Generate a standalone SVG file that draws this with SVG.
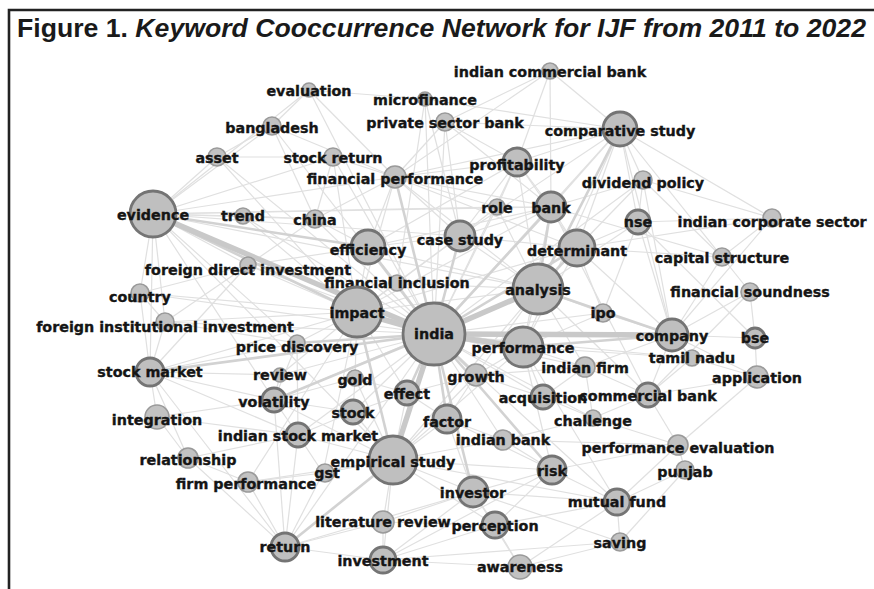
<svg xmlns="http://www.w3.org/2000/svg" width="874" height="589" viewBox="0 0 874 589">
<style>
.e{stroke:#e0e0e0;stroke-width:1.2;fill:none}
.m{stroke:#d2d2d2;stroke-width:2.6;fill:none}
.t{stroke:#c9c9c9;stroke-width:5.5;fill:none}
.n circle{fill:#c2c2c2;stroke:#9a9a9a;stroke-width:1.6}
.b circle{fill:#bfbfbf;stroke:#747474;stroke-width:2.8}
.n text,.b text{font-family:"DejaVu Sans",Verdana,sans-serif;font-weight:bold;font-size:14.3px;fill:#151515;stroke:#151515;stroke-width:0.35;text-anchor:middle}
.title{font-family:"Liberation Sans",Arial,sans-serif;font-weight:bold;font-size:26px;fill:#1a1a1a}
</style>
<rect width="874" height="589" fill="#fff"/>
<path d="M9,589 V10 H874" fill="none" stroke="#222" stroke-width="2.6"/>
<text class="title" x="17" y="37" textLength="849" lengthAdjust="spacingAndGlyphs">Figure 1. <tspan font-style="italic">Keyword Cooccurrence Network for IJF from 2011 to 2022</tspan></text>
<g id="connectors">
<g class="e">
<line x1="153" y1="214" x2="243" y2="216"/><line x1="153" y1="214" x2="315" y2="219"/><line x1="153" y1="214" x2="217" y2="157"/><line x1="153" y1="214" x2="248" y2="265"/><line x1="153" y1="214" x2="140" y2="293"/><line x1="153" y1="214" x2="150" y2="372"/><line x1="153" y1="214" x2="333" y2="157"/><line x1="153" y1="214" x2="395" y2="177"/><line x1="153" y1="214" x2="272" y2="126"/><line x1="153" y1="214" x2="309" y2="90"/><line x1="153" y1="214" x2="165" y2="322"/><line x1="153" y1="214" x2="297" y2="343"/><line x1="153" y1="214" x2="393" y2="460"/><line x1="153" y1="214" x2="274" y2="400"/><line x1="153" y1="214" x2="497" y2="207"/><line x1="153" y1="214" x2="551" y2="207"/><line x1="153" y1="214" x2="460" y2="236"/><line x1="153" y1="214" x2="538" y2="289"/>
<line x1="620" y1="129" x2="517" y2="162"/><line x1="620" y1="129" x2="551" y2="207"/><line x1="620" y1="129" x2="445" y2="122"/><line x1="620" y1="129" x2="550" y2="71"/><line x1="620" y1="129" x2="577" y2="248"/><line x1="620" y1="129" x2="672" y2="335"/><line x1="620" y1="129" x2="638" y2="222"/><line x1="620" y1="129" x2="643" y2="180"/><line x1="620" y1="129" x2="460" y2="236"/><line x1="620" y1="129" x2="395" y2="177"/><line x1="620" y1="129" x2="425" y2="99"/><line x1="620" y1="129" x2="722" y2="257"/><line x1="620" y1="129" x2="772" y2="218"/><line x1="620" y1="129" x2="523" y2="347"/><line x1="620" y1="129" x2="434" y2="334"/>
<line x1="550" y1="71" x2="445" y2="122"/><line x1="550" y1="71" x2="517" y2="162"/><line x1="550" y1="71" x2="551" y2="207"/><line x1="550" y1="71" x2="395" y2="177"/>
<line x1="425" y1="99" x2="397" y2="283"/><line x1="425" y1="99" x2="460" y2="236"/><line x1="425" y1="99" x2="309" y2="90"/><line x1="425" y1="99" x2="434" y2="334"/>
<line x1="445" y1="122" x2="517" y2="162"/><line x1="445" y1="122" x2="551" y2="207"/><line x1="445" y1="122" x2="395" y2="177"/><line x1="445" y1="122" x2="460" y2="236"/><line x1="445" y1="122" x2="434" y2="334"/>
<line x1="517" y1="162" x2="551" y2="207"/><line x1="517" y1="162" x2="577" y2="248"/><line x1="517" y1="162" x2="395" y2="177"/><line x1="517" y1="162" x2="497" y2="207"/><line x1="517" y1="162" x2="538" y2="289"/><line x1="517" y1="162" x2="434" y2="334"/><line x1="517" y1="162" x2="460" y2="236"/><line x1="517" y1="162" x2="368" y2="247"/>
<line x1="643" y1="180" x2="638" y2="222"/><line x1="643" y1="180" x2="672" y2="335"/><line x1="643" y1="180" x2="722" y2="257"/><line x1="643" y1="180" x2="577" y2="248"/><line x1="643" y1="180" x2="551" y2="207"/><line x1="643" y1="180" x2="434" y2="334"/>
<line x1="638" y1="222" x2="672" y2="335"/><line x1="638" y1="222" x2="755" y2="338"/><line x1="638" y1="222" x2="577" y2="248"/><line x1="638" y1="222" x2="538" y2="289"/><line x1="638" y1="222" x2="603" y2="313"/>
<line x1="772" y1="218" x2="722" y2="257"/><line x1="772" y1="218" x2="672" y2="335"/><line x1="772" y1="218" x2="577" y2="248"/><line x1="772" y1="218" x2="643" y2="180"/><line x1="772" y1="218" x2="638" y2="222"/>
<line x1="722" y1="257" x2="672" y2="335"/><line x1="722" y1="257" x2="577" y2="248"/><line x1="722" y1="257" x2="750" y2="292"/><line x1="722" y1="257" x2="551" y2="207"/>
<line x1="750" y1="292" x2="755" y2="338"/><line x1="750" y1="292" x2="672" y2="335"/><line x1="750" y1="292" x2="648" y2="395"/>
<line x1="755" y1="338" x2="672" y2="335"/><line x1="755" y1="338" x2="757" y2="377"/>
<line x1="672" y1="335" x2="692" y2="358"/><line x1="672" y1="335" x2="757" y2="377"/><line x1="672" y1="335" x2="538" y2="289"/><line x1="672" y1="335" x2="523" y2="347"/><line x1="672" y1="335" x2="585" y2="367"/><line x1="672" y1="335" x2="603" y2="313"/><line x1="672" y1="335" x2="577" y2="248"/><line x1="672" y1="335" x2="648" y2="395"/>
<line x1="757" y1="377" x2="692" y2="358"/><line x1="757" y1="377" x2="648" y2="395"/><line x1="757" y1="377" x2="678" y2="445"/>
<line x1="648" y1="395" x2="678" y2="445"/><line x1="648" y1="395" x2="543" y2="397"/><line x1="648" y1="395" x2="585" y2="367"/><line x1="648" y1="395" x2="538" y2="289"/><line x1="648" y1="395" x2="593" y2="418"/><line x1="648" y1="395" x2="551" y2="207"/>
<line x1="678" y1="445" x2="685" y2="470"/><line x1="678" y1="445" x2="617" y2="502"/><line x1="678" y1="445" x2="552" y2="470"/><line x1="678" y1="445" x2="593" y2="418"/><line x1="678" y1="445" x2="503" y2="440"/>
<line x1="685" y1="470" x2="617" y2="502"/><line x1="685" y1="470" x2="620" y2="542"/>
<line x1="617" y1="502" x2="552" y2="470"/><line x1="617" y1="502" x2="473" y2="492"/><line x1="617" y1="502" x2="620" y2="542"/><line x1="617" y1="502" x2="495" y2="525"/><line x1="617" y1="502" x2="520" y2="567"/><line x1="617" y1="502" x2="523" y2="347"/><line x1="617" y1="502" x2="434" y2="334"/><line x1="617" y1="502" x2="393" y2="460"/>
<line x1="620" y1="542" x2="520" y2="567"/><line x1="620" y1="542" x2="383" y2="560"/><line x1="620" y1="542" x2="473" y2="492"/>
<line x1="520" y1="567" x2="495" y2="525"/><line x1="520" y1="567" x2="473" y2="492"/><line x1="520" y1="567" x2="383" y2="560"/>
<line x1="495" y1="525" x2="473" y2="492"/><line x1="495" y1="525" x2="383" y2="522"/><line x1="495" y1="525" x2="383" y2="560"/><line x1="495" y1="525" x2="552" y2="470"/><line x1="495" y1="525" x2="393" y2="460"/>
<line x1="383" y1="560" x2="285" y2="547"/><line x1="383" y1="560" x2="383" y2="522"/><line x1="383" y1="560" x2="473" y2="492"/><line x1="383" y1="560" x2="393" y2="460"/><line x1="383" y1="560" x2="552" y2="470"/>
<line x1="285" y1="547" x2="383" y2="522"/><line x1="285" y1="547" x2="150" y2="372"/><line x1="285" y1="547" x2="248" y2="482"/><line x1="285" y1="547" x2="473" y2="492"/><line x1="285" y1="547" x2="323" y2="473"/><line x1="285" y1="547" x2="274" y2="400"/><line x1="285" y1="547" x2="188" y2="458"/><line x1="285" y1="547" x2="298" y2="435"/><line x1="285" y1="547" x2="434" y2="334"/>
<line x1="383" y1="522" x2="393" y2="460"/><line x1="383" y1="522" x2="473" y2="492"/>
<line x1="248" y1="482" x2="188" y2="458"/><line x1="248" y1="482" x2="323" y2="473"/><line x1="248" y1="482" x2="393" y2="460"/><line x1="248" y1="482" x2="357" y2="312"/>
<line x1="188" y1="458" x2="157" y2="417"/><line x1="188" y1="458" x2="150" y2="372"/><line x1="188" y1="458" x2="298" y2="435"/>
<line x1="323" y1="473" x2="393" y2="460"/><line x1="323" y1="473" x2="298" y2="435"/><line x1="323" y1="473" x2="357" y2="312"/>
<line x1="298" y1="435" x2="353" y2="412"/><line x1="298" y1="435" x2="274" y2="400"/><line x1="298" y1="435" x2="393" y2="460"/><line x1="298" y1="435" x2="297" y2="343"/><line x1="298" y1="435" x2="434" y2="334"/>
<line x1="157" y1="417" x2="150" y2="372"/><line x1="157" y1="417" x2="274" y2="400"/><line x1="157" y1="417" x2="298" y2="435"/>
<line x1="150" y1="372" x2="140" y2="293"/><line x1="150" y1="372" x2="165" y2="322"/><line x1="150" y1="372" x2="274" y2="400"/><line x1="150" y1="372" x2="280" y2="375"/><line x1="150" y1="372" x2="297" y2="343"/><line x1="150" y1="372" x2="298" y2="435"/><line x1="150" y1="372" x2="248" y2="265"/><line x1="150" y1="372" x2="357" y2="312"/>
<line x1="274" y1="400" x2="353" y2="412"/><line x1="274" y1="400" x2="280" y2="375"/><line x1="274" y1="400" x2="355" y2="378"/><line x1="274" y1="400" x2="393" y2="460"/><line x1="274" y1="400" x2="297" y2="343"/><line x1="274" y1="400" x2="538" y2="289"/>
<line x1="353" y1="412" x2="355" y2="378"/><line x1="353" y1="412" x2="407" y2="393"/><line x1="353" y1="412" x2="393" y2="460"/><line x1="353" y1="412" x2="434" y2="334"/>
<line x1="447" y1="419" x2="407" y2="393"/><line x1="447" y1="419" x2="476" y2="375"/><line x1="447" y1="419" x2="552" y2="470"/><line x1="447" y1="419" x2="473" y2="492"/><line x1="447" y1="419" x2="393" y2="460"/><line x1="447" y1="419" x2="503" y2="440"/>
<line x1="476" y1="375" x2="523" y2="347"/><line x1="476" y1="375" x2="585" y2="367"/><line x1="476" y1="375" x2="543" y2="397"/><line x1="476" y1="375" x2="393" y2="460"/>
<line x1="543" y1="397" x2="585" y2="367"/><line x1="543" y1="397" x2="523" y2="347"/><line x1="543" y1="397" x2="593" y2="418"/><line x1="543" y1="397" x2="434" y2="334"/>
<line x1="503" y1="440" x2="552" y2="470"/><line x1="503" y1="440" x2="393" y2="460"/><line x1="503" y1="440" x2="593" y2="418"/><line x1="503" y1="440" x2="434" y2="334"/>
<line x1="552" y1="470" x2="473" y2="492"/><line x1="552" y1="470" x2="393" y2="460"/><line x1="552" y1="470" x2="523" y2="347"/>
<line x1="593" y1="418" x2="585" y2="367"/><line x1="593" y1="418" x2="434" y2="334"/>
<line x1="407" y1="393" x2="476" y2="375"/><line x1="407" y1="393" x2="355" y2="378"/><line x1="407" y1="393" x2="393" y2="460"/>
<line x1="297" y1="343" x2="165" y2="322"/><line x1="297" y1="343" x2="357" y2="312"/>
<line x1="280" y1="375" x2="357" y2="312"/><line x1="280" y1="375" x2="434" y2="334"/>
<line x1="165" y1="322" x2="140" y2="293"/><line x1="165" y1="322" x2="248" y2="265"/><line x1="165" y1="322" x2="357" y2="312"/><line x1="165" y1="322" x2="434" y2="334"/>
<line x1="248" y1="265" x2="357" y2="312"/><line x1="248" y1="265" x2="368" y2="247"/><line x1="248" y1="265" x2="434" y2="334"/><line x1="248" y1="265" x2="315" y2="219"/>
<line x1="140" y1="293" x2="248" y2="265"/><line x1="140" y1="293" x2="357" y2="312"/><line x1="140" y1="293" x2="434" y2="334"/>
<line x1="368" y1="247" x2="395" y2="177"/><line x1="368" y1="247" x2="315" y2="219"/><line x1="368" y1="247" x2="460" y2="236"/><line x1="368" y1="247" x2="357" y2="312"/><line x1="368" y1="247" x2="397" y2="283"/><line x1="368" y1="247" x2="538" y2="289"/><line x1="368" y1="247" x2="551" y2="207"/>
<line x1="397" y1="283" x2="434" y2="334"/><line x1="397" y1="283" x2="357" y2="312"/><line x1="397" y1="283" x2="460" y2="236"/><line x1="397" y1="283" x2="538" y2="289"/>
<line x1="460" y1="236" x2="551" y2="207"/><line x1="460" y1="236" x2="497" y2="207"/><line x1="460" y1="236" x2="577" y2="248"/><line x1="460" y1="236" x2="538" y2="289"/><line x1="460" y1="236" x2="357" y2="312"/>
<line x1="497" y1="207" x2="551" y2="207"/><line x1="497" y1="207" x2="395" y2="177"/><line x1="497" y1="207" x2="434" y2="334"/><line x1="497" y1="207" x2="538" y2="289"/>
<line x1="551" y1="207" x2="577" y2="248"/><line x1="551" y1="207" x2="523" y2="347"/><line x1="551" y1="207" x2="395" y2="177"/><line x1="551" y1="207" x2="357" y2="312"/>
<line x1="577" y1="248" x2="523" y2="347"/><line x1="577" y1="248" x2="603" y2="313"/><line x1="577" y1="248" x2="357" y2="312"/><line x1="577" y1="248" x2="395" y2="177"/>
<line x1="333" y1="157" x2="395" y2="177"/><line x1="333" y1="157" x2="357" y2="312"/><line x1="333" y1="157" x2="315" y2="219"/><line x1="333" y1="157" x2="217" y2="157"/><line x1="333" y1="157" x2="434" y2="334"/>
<line x1="217" y1="157" x2="272" y2="126"/><line x1="217" y1="157" x2="357" y2="312"/><line x1="217" y1="157" x2="434" y2="334"/>
<line x1="272" y1="126" x2="395" y2="177"/><line x1="272" y1="126" x2="315" y2="219"/><line x1="272" y1="126" x2="434" y2="334"/>
<line x1="309" y1="90" x2="395" y2="177"/><line x1="309" y1="90" x2="272" y2="126"/><line x1="309" y1="90" x2="434" y2="334"/>
<line x1="243" y1="216" x2="315" y2="219"/><line x1="243" y1="216" x2="434" y2="334"/><line x1="243" y1="216" x2="357" y2="312"/>
<line x1="315" y1="219" x2="434" y2="334"/><line x1="315" y1="219" x2="395" y2="177"/>
<line x1="603" y1="313" x2="538" y2="289"/><line x1="603" y1="313" x2="523" y2="347"/><line x1="603" y1="313" x2="434" y2="334"/>
<line x1="692" y1="358" x2="523" y2="347"/><line x1="692" y1="358" x2="434" y2="334"/><line x1="692" y1="358" x2="648" y2="395"/>
<line x1="585" y1="367" x2="523" y2="347"/><line x1="585" y1="367" x2="434" y2="334"/>
<line x1="395" y1="177" x2="357" y2="312"/><line x1="395" y1="177" x2="460" y2="236"/><line x1="395" y1="177" x2="538" y2="289"/>
<line x1="357" y1="312" x2="538" y2="289"/><line x1="357" y1="312" x2="523" y2="347"/><line x1="357" y1="312" x2="407" y2="393"/><line x1="357" y1="312" x2="355" y2="378"/>
<line x1="393" y1="460" x2="523" y2="347"/><line x1="393" y1="460" x2="538" y2="289"/><line x1="393" y1="460" x2="473" y2="492"/><line x1="393" y1="460" x2="355" y2="378"/>
<line x1="538" y1="289" x2="523" y2="347"/><line x1="538" y1="289" x2="585" y2="367"/><line x1="538" y1="289" x2="476" y2="375"/>
</g>
<g class="m">
<line x1="153" y1="214" x2="357" y2="312"/><line x1="153" y1="214" x2="368" y2="247"/><line x1="434" y1="334" x2="551" y2="207"/><line x1="434" y1="334" x2="577" y2="248"/><line x1="434" y1="334" x2="447" y2="419"/><line x1="434" y1="334" x2="473" y2="492"/><line x1="434" y1="334" x2="150" y2="372"/><line x1="538" y1="289" x2="620" y2="129"/><line x1="538" y1="289" x2="551" y2="207"/><line x1="434" y1="334" x2="460" y2="236"/><line x1="434" y1="334" x2="368" y2="247"/><line x1="434" y1="334" x2="395" y2="177"/><line x1="393" y1="460" x2="285" y2="547"/><line x1="434" y1="334" x2="552" y2="470"/><line x1="434" y1="334" x2="274" y2="400"/><line x1="434" y1="334" x2="297" y2="343"/><line x1="538" y1="289" x2="577" y2="248"/><line x1="357" y1="312" x2="393" y2="460"/><line x1="434" y1="334" x2="476" y2="375"/><line x1="434" y1="334" x2="407" y2="393"/><line x1="538" y1="289" x2="672" y2="335"/><line x1="523" y1="347" x2="672" y2="335"/>
</g>
<g class="t">
<line x1="434" y1="334" x2="153" y2="214"/><line x1="434" y1="334" x2="393" y2="460"/><line x1="434" y1="334" x2="672" y2="335"/><line x1="434" y1="334" x2="538" y2="289"/><line x1="434" y1="334" x2="357" y2="312"/><line x1="434" y1="334" x2="523" y2="347"/>
</g>
</g>
<g id="n-evaluation" class="n"><circle cx="309" cy="90" r="7"/><text x="309" y="96">evaluation</text></g>
<g id="n-microfinance" class="n"><circle cx="425" cy="99" r="7"/><text x="425" y="105">microfinance</text></g>
<g id="n-indian-commercial-bank" class="n"><circle cx="550" cy="71" r="8"/><text x="550" y="77">indian commercial bank</text></g>
<g id="n-bangladesh" class="n"><circle cx="272" cy="126" r="9"/><text x="272" y="133">bangladesh</text></g>
<g id="n-private-sector-bank" class="n"><circle cx="445" cy="122" r="9"/><text x="445" y="128">private sector bank</text></g>
<g id="n-comparative-study" class="b"><circle cx="620" cy="129" r="17"/><text x="620" y="136">comparative study</text></g>
<g id="n-asset" class="n"><circle cx="217" cy="157" r="9"/><text x="217" y="163">asset</text></g>
<g id="n-stock-return" class="n"><circle cx="333" cy="157" r="9"/><text x="333" y="163">stock return</text></g>
<g id="n-profitability" class="b"><circle cx="517" cy="162" r="14"/><text x="517" y="170">profitability</text></g>
<g id="n-financial-performance" class="n"><circle cx="395" cy="177" r="11"/><text x="395" y="184">financial performance</text></g>
<g id="n-dividend-policy" class="n"><circle cx="643" cy="180" r="9"/><text x="643" y="188">dividend policy</text></g>
<g id="n-evidence" class="b"><circle cx="153" cy="214" r="23"/><text x="153" y="220">evidence</text></g>
<g id="n-trend" class="n"><circle cx="243" cy="216" r="8"/><text x="243" y="221">trend</text></g>
<g id="n-china" class="n"><circle cx="315" cy="219" r="9"/><text x="315" y="225">china</text></g>
<g id="n-role" class="n"><circle cx="497" cy="207" r="8"/><text x="497" y="213">role</text></g>
<g id="n-bank" class="b"><circle cx="551" cy="207" r="15"/><text x="551" y="213">bank</text></g>
<g id="n-nse" class="b"><circle cx="638" cy="222" r="12"/><text x="638" y="227">nse</text></g>
<g id="n-indian-corporate-sector" class="n"><circle cx="772" cy="218" r="9"/><text x="772" y="227">indian corporate sector</text></g>
<g id="n-efficiency" class="b"><circle cx="368" cy="247" r="17"/><text x="368" y="255">efficiency</text></g>
<g id="n-case-study" class="b"><circle cx="460" cy="236" r="15"/><text x="460" y="245">case study</text></g>
<g id="n-determinant" class="b"><circle cx="577" cy="248" r="18"/><text x="577" y="256">determinant</text></g>
<g id="n-capital-structure" class="n"><circle cx="722" cy="257" r="9"/><text x="722" y="263">capital structure</text></g>
<g id="n-foreign-direct-investment" class="n"><circle cx="248" cy="265" r="8"/><text x="248" y="275">foreign direct investment</text></g>
<g id="n-financial-inclusion" class="n"><circle cx="397" cy="283" r="8"/><text x="397" y="288">financial inclusion</text></g>
<g id="n-analysis" class="b"><circle cx="538" cy="289" r="25"/><text x="538" y="295">analysis</text></g>
<g id="n-financial-soundness" class="n"><circle cx="750" cy="292" r="9"/><text x="750" y="297">financial soundness</text></g>
<g id="n-country" class="n"><circle cx="140" cy="293" r="9"/><text x="140" y="302">country</text></g>
<g id="n-impact" class="b"><circle cx="357" cy="312" r="25"/><text x="357" y="318">impact</text></g>
<g id="n-india" class="b"><circle cx="434" cy="334" r="31"/><text x="434" y="339">india</text></g>
<g id="n-ipo" class="n"><circle cx="603" cy="313" r="9"/><text x="603" y="318">ipo</text></g>
<g id="n-foreign-institutional-investment" class="n"><circle cx="165" cy="322" r="9"/><text x="165" y="332">foreign institutional investment</text></g>
<g id="n-company" class="b"><circle cx="672" cy="335" r="16"/><text x="672" y="341">company</text></g>
<g id="n-bse" class="b"><circle cx="755" cy="338" r="10"/><text x="755" y="343">bse</text></g>
<g id="n-price-discovery" class="n"><circle cx="297" cy="343" r="8"/><text x="297" y="352">price discovery</text></g>
<g id="n-performance" class="b"><circle cx="523" cy="347" r="20"/><text x="523" y="353">performance</text></g>
<g id="n-tamil-nadu" class="n"><circle cx="692" cy="358" r="8"/><text x="692" y="363">tamil nadu</text></g>
<g id="n-indian-firm" class="n"><circle cx="585" cy="367" r="10"/><text x="585" y="373">indian firm</text></g>
<g id="n-stock-market" class="b"><circle cx="150" cy="372" r="14"/><text x="150" y="377">stock market</text></g>
<g id="n-review" class="n"><circle cx="280" cy="375" r="7"/><text x="280" y="380">review</text></g>
<g id="n-gold" class="n"><circle cx="355" cy="378" r="8"/><text x="355" y="385">gold</text></g>
<g id="n-growth" class="n"><circle cx="476" cy="375" r="11"/><text x="476" y="382">growth</text></g>
<g id="n-application" class="n"><circle cx="757" cy="377" r="11"/><text x="757" y="383">application</text></g>
<g id="n-effect" class="b"><circle cx="407" cy="393" r="12"/><text x="407" y="399">effect</text></g>
<g id="n-volatility" class="b"><circle cx="274" cy="400" r="12"/><text x="274" y="407">volatility</text></g>
<g id="n-stock" class="b"><circle cx="353" cy="412" r="12"/><text x="353" y="418">stock</text></g>
<g id="n-acquisition" class="b"><circle cx="543" cy="397" r="12"/><text x="543" y="403">acquisition</text></g>
<g id="n-commercial-bank" class="b"><circle cx="648" cy="395" r="12"/><text x="648" y="401">commercial bank</text></g>
<g id="n-factor" class="b"><circle cx="447" cy="419" r="14"/><text x="447" y="427">factor</text></g>
<g id="n-integration" class="n"><circle cx="157" cy="417" r="12"/><text x="157" y="425">integration</text></g>
<g id="n-challenge" class="n"><circle cx="593" cy="418" r="8"/><text x="593" y="426">challenge</text></g>
<g id="n-indian-stock-market" class="b"><circle cx="298" cy="435" r="12"/><text x="298" y="441">indian stock market</text></g>
<g id="n-indian-bank" class="n"><circle cx="503" cy="440" r="10"/><text x="503" y="445">indian bank</text></g>
<g id="n-performance-evaluation" class="n"><circle cx="678" cy="445" r="10"/><text x="678" y="453">performance evaluation</text></g>
<g id="n-relationship" class="n"><circle cx="188" cy="458" r="10"/><text x="188" y="465">relationship</text></g>
<g id="n-empirical-study" class="b"><circle cx="393" cy="460" r="24"/><text x="393" y="467">empirical study</text></g>
<g id="n-risk" class="b"><circle cx="552" cy="470" r="14"/><text x="552" y="476">risk</text></g>
<g id="n-punjab" class="n"><circle cx="685" cy="470" r="9"/><text x="685" y="477">punjab</text></g>
<g id="n-gst" class="n"><circle cx="325" cy="473" r="9"/><text x="327" y="478">gst</text></g>
<g id="n-firm-performance" class="n"><circle cx="248" cy="482" r="10"/><text x="246" y="489">firm performance</text></g>
<g id="n-investor" class="b"><circle cx="473" cy="492" r="15"/><text x="473" y="498">investor</text></g>
<g id="n-mutual-fund" class="b"><circle cx="617" cy="502" r="13"/><text x="617" y="507">mutual fund</text></g>
<g id="n-literature-review" class="n"><circle cx="383" cy="522" r="11"/><text x="383" y="527">literature review</text></g>
<g id="n-perception" class="b"><circle cx="495" cy="525" r="13"/><text x="495" y="531">perception</text></g>
<g id="n-saving" class="n"><circle cx="620" cy="542" r="9"/><text x="620" y="548">saving</text></g>
<g id="n-return" class="b"><circle cx="285" cy="547" r="14"/><text x="285" y="552">return</text></g>
<g id="n-investment" class="b"><circle cx="383" cy="560" r="13"/><text x="383" y="566">investment</text></g>
<g id="n-awareness" class="n"><circle cx="520" cy="567" r="12"/><text x="520" y="572">awareness</text></g>
</svg>
